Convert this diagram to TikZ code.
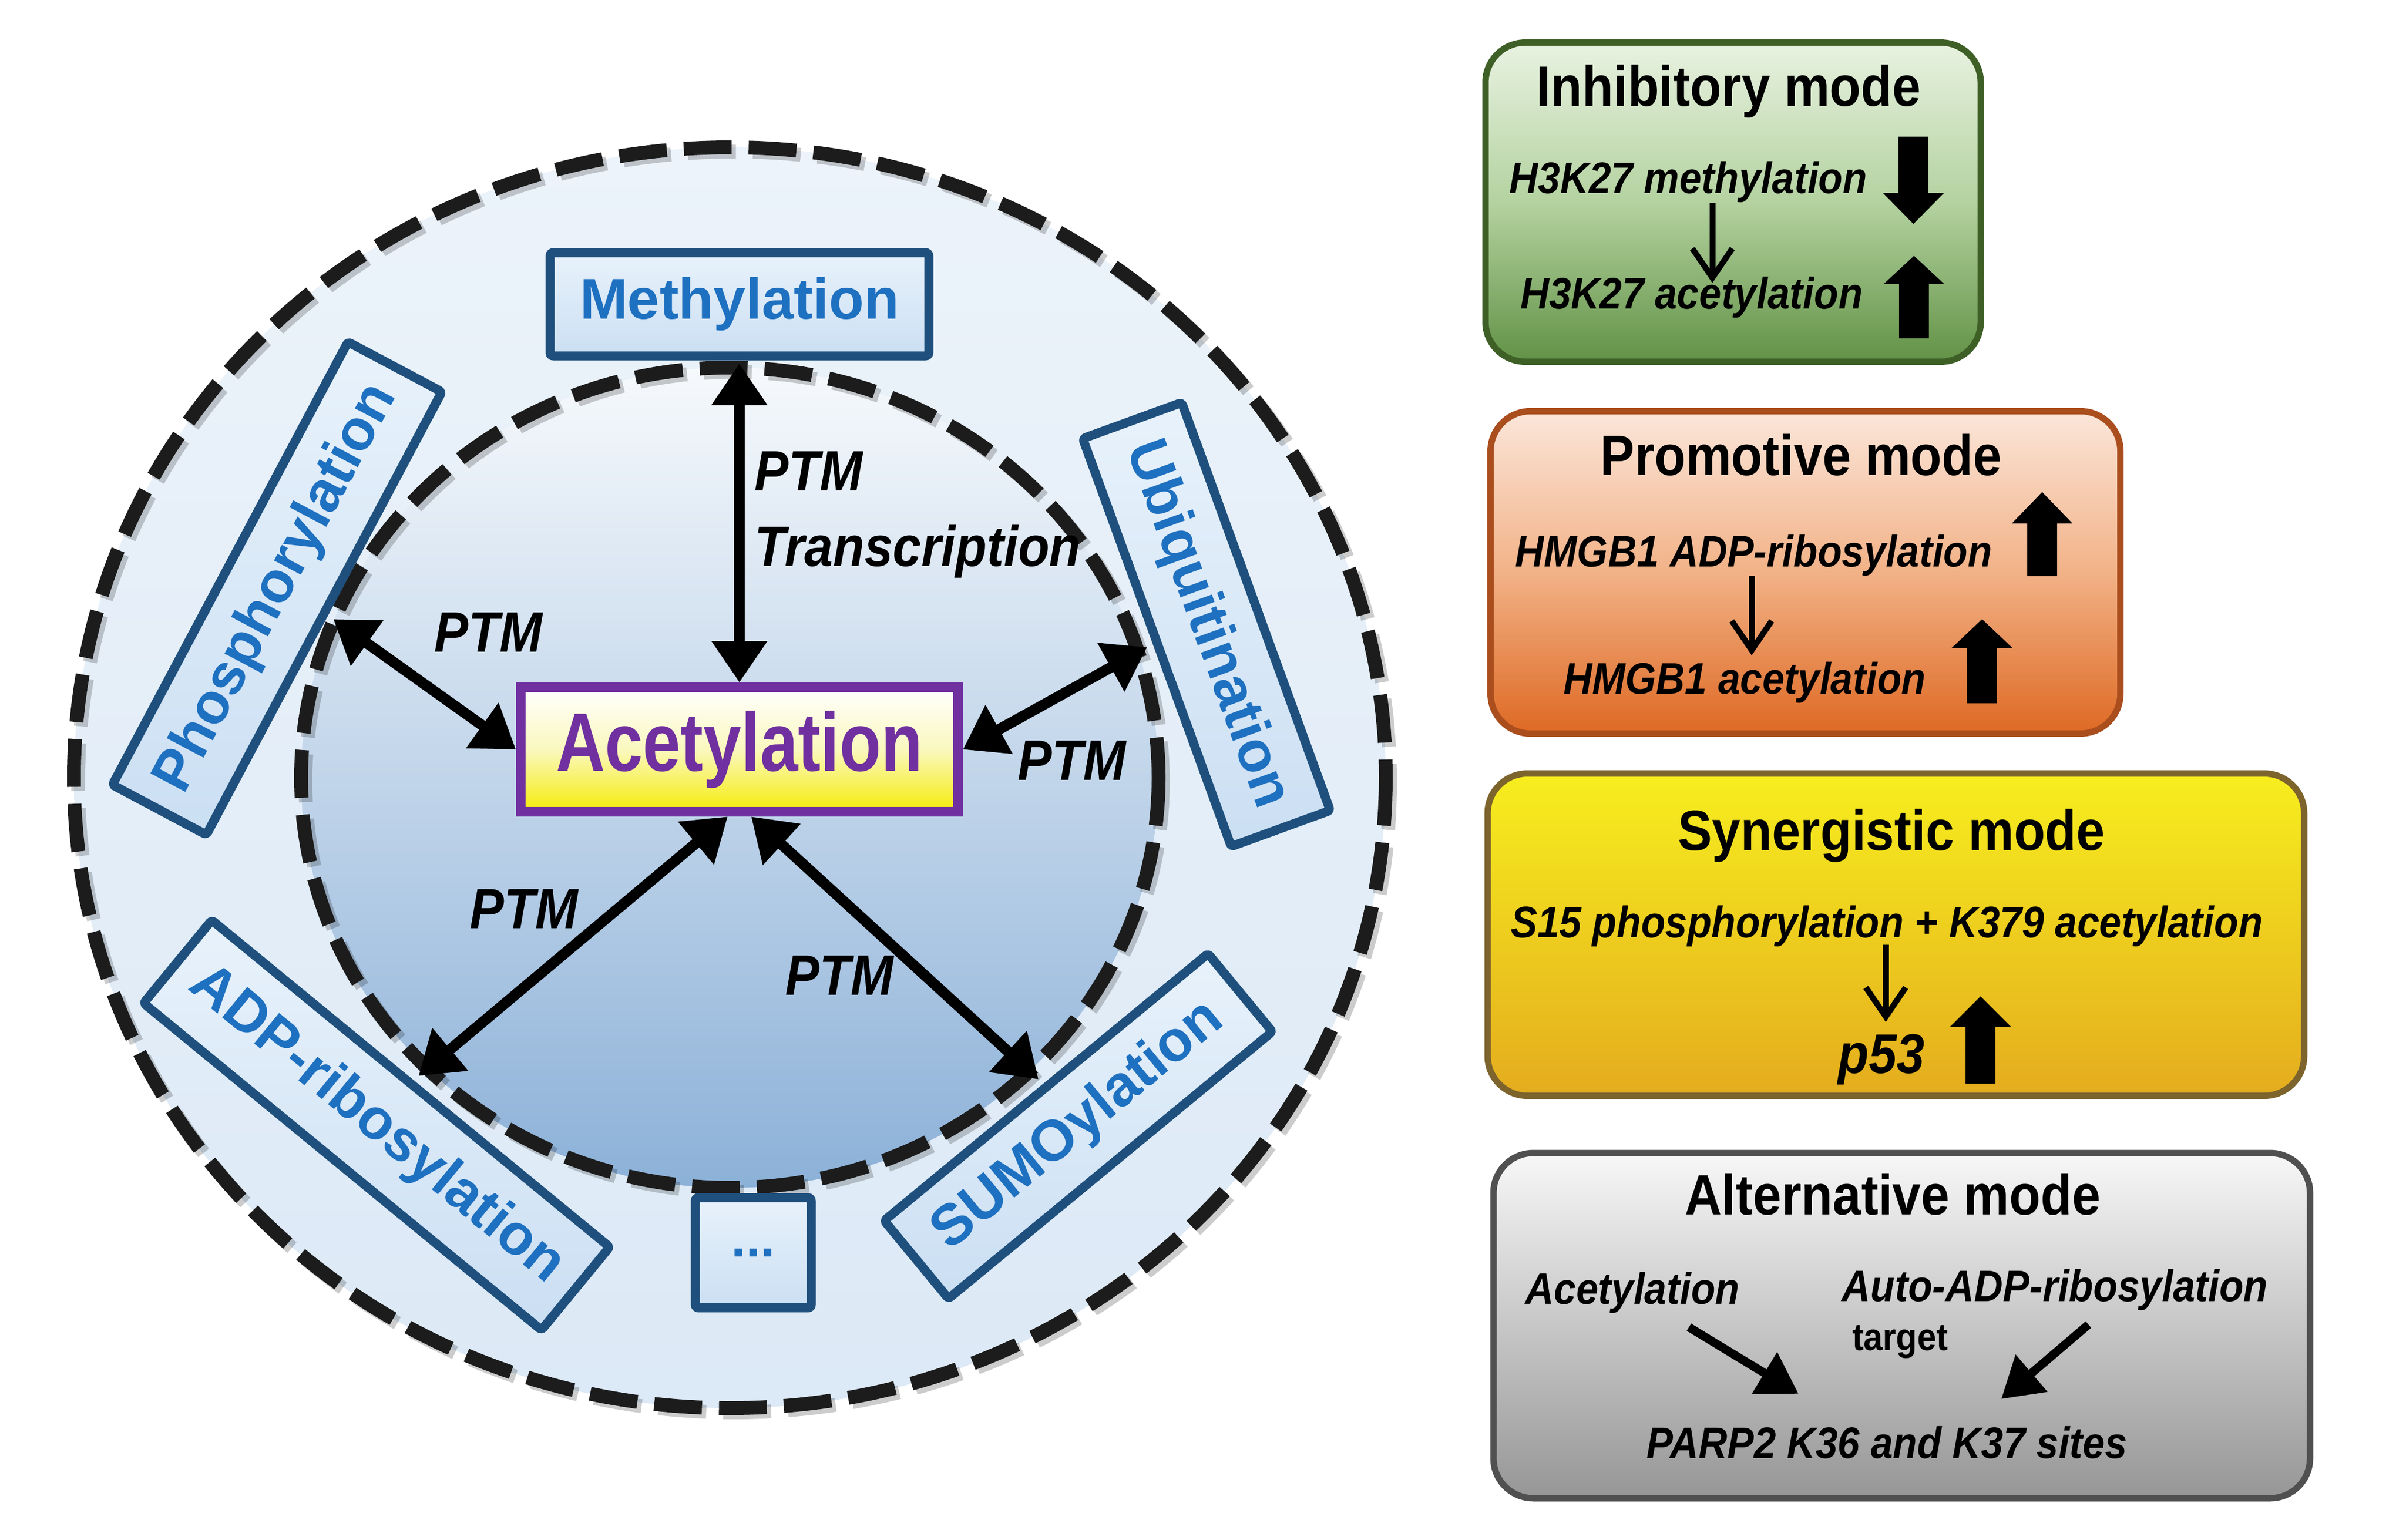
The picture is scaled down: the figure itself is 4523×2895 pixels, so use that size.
\documentclass[tikz,border=0pt]{standalone}
\usepackage{fontspec}
\setmainfont{Liberation Sans}
\newfontfamily\narrowf{Liberation Sans}[FakeStretch=0.9]
\newfontfamily\acetf{Liberation Sans}[FakeStretch=0.82]
\usetikzlibrary{arrows.meta}
\newcommand\fsz[1]{\fontsize{#1}{#1}\selectfont}
\newcommand\blkarrow[4]{\fill[black] (#1-28,#2) -- (#1-28,#3) -- (#1-57,#3) -- (#1,#4) -- (#1+57,#3) -- (#1+28,#3) -- (#1+28,#2) -- cycle;}
\definecolor{outT}{RGB}{236,243,250}
\definecolor{outB}{RGB}{220,233,246}
\definecolor{inT}{RGB}{246,249,252}
\definecolor{inM}{RGB}{200,218,238}
\definecolor{inB}{RGB}{140,177,216}
\definecolor{dashc}{RGB}{28,28,28}
\definecolor{bluebd}{RGB}{31,80,125}
\definecolor{blueT}{RGB}{232,242,251}
\definecolor{blueB}{RGB}{203,223,243}
\definecolor{bluetx}{RGB}{30,112,192}
\definecolor{purp}{RGB}{112,48,160}
\definecolor{acetY}{RGB}{245,236,10}
\definecolor{acetM}{RGB}{250,248,190}
\definecolor{grnbd}{RGB}{62,95,38}
\definecolor{grnT}{RGB}{232,242,225}
\definecolor{grnM}{RGB}{180,210,160}
\definecolor{grnB}{RGB}{98,146,70}
\definecolor{ornbd}{RGB}{170,78,30}
\definecolor{ornT}{RGB}{251,230,218}
\definecolor{ornM}{RGB}{242,178,135}
\definecolor{ornB}{RGB}{222,105,35}
\definecolor{yelbd}{RGB}{125,100,45}
\definecolor{yelT}{RGB}{247,238,30}
\definecolor{yelB}{RGB}{228,172,30}
\definecolor{grybd}{RGB}{80,80,80}
\definecolor{gryT}{RGB}{247,247,247}
\definecolor{gryB}{RGB}{150,150,150}
\begin{document}
\begin{tikzpicture}[x=1pt,y=-1pt,
  dashring/.style={line width=26, dash pattern=on 90pt off 32pt, draw=dashc},
  bluebox/.style={draw=bluebd, line width=17, top color=blueT, bottom color=blueB, text=bluetx, font=\fsz{108}\bfseries, inner sep=0, rounded corners=6},
  dbl/.style={line width=20, {Triangle[length=78pt,width=100pt]}-{Triangle[length=78pt,width=100pt]}},
  ptm/.style={font=\fsz{107}\narrowf\bfseries\itshape, inner sep=0, anchor=base},
  modebox/.style={line width=12, rounded corners=75, inner sep=0},
  title/.style={font=\fsz{107}\narrowf\bfseries, inner sep=0, anchor=base},
  body/.style={font=\fsz{83}\narrowf\bfseries\itshape, inner sep=0, anchor=base},
  thinarrow/.style={line width=11, -{Straight Barb[length=55pt,width=75pt]}},
  altarrow/.style={line width=16, -{Triangle[length=75pt,width=88pt]}}]
\useasboundingbox (0,0) rectangle (4523,2895);
\fill[white] (0,0) rectangle (4523,2895);

% rings
\coordinate (C) at (1372,1462);
\shade[top color=outT, bottom color=outB] (C) ellipse [x radius=1233, y radius=1185];
\draw[dashring, draw=black, opacity=0.2] ([shift={(8,8)}]C) ellipse [x radius=1233, y radius=1185];
\draw[dashring] (C) ellipse [x radius=1233, y radius=1185];
\shade[top color=inT, middle color=inM, bottom color=inB] (C) ellipse [x radius=806, y radius=771];
\draw[dashring, draw=black, opacity=0.2] ([shift={(8,8)}]C) ellipse [x radius=806, y radius=771];
\draw[dashring] (C) ellipse [x radius=806, y radius=771];

% PTM boxes
\node[bluebox, minimum width=712, minimum height=194] (meth) at (1390,572) {Methylation};
\node[bluebox, rotate=62, minimum width=943, minimum height=200] (phos) at (521,1106) {Phosphorylation};
\node[bluebox, rotate=-70, minimum width=816, minimum height=198] (ubiq) at (2268,1174) {Ubiquitination};
\node[bluebox, rotate=-39.4, minimum width=968, minimum height=202] (adp) at (708,2115) {ADP-ribosylation};
\node[bluebox, rotate=39.5, minimum width=789, minimum height=190] (sumo) at (2027,2117) {SUMOylation};
\node[bluebox, minimum width=218, minimum height=207, font=\fsz{100}\bfseries] (dots) at (1416,2355) {...};

\node[draw=purp, line width=18, top color=white, bottom color=acetY, middle color=acetM, text=purp,
      font=\fsz{156}\acetf\bfseries, minimum width=822, minimum height=234, inner sep=0] (acet) at (1390,1409) {Acetylation};

% connectors
\draw[dbl, shorten <=6] (meth.south) -- (acet.north);
\draw[dbl, shorten <=12] (phos.south) -- (acet.west);
\draw[dbl, shorten <=12] (ubiq.south) -- (acet.east);
\draw[dbl, shorten <=12] (adp.north) -- ([xshift=-22]acet.south);
\draw[dbl, shorten <=12] (sumo.north) -- ([xshift=22]acet.south);

% PTM labels
\node[ptm, anchor=base west] (l1) at (1418,922) {PTM};
\node[ptm, anchor=base west] (l2) at (1418,1064) {Transcription};
\node[ptm] (l3) at (918,1225) {PTM};
\node[ptm] (l4) at (2015,1466) {PTM};
\node[ptm] (l5) at (985,1745) {PTM};
\node[ptm] (l6) at (1578,1870) {PTM};

% Inhibitory
\node[modebox, draw=grnbd, top color=grnT, bottom color=grnB, middle color=grnM, minimum width=931, minimum height=600] (inhib) at (3258,380) {};
\node[title] (it) at (3250,200) {Inhibitory mode};
\node[body] (i1) at (3174,363) {H3K27 methylation};
\node[body] (i2) at (3180,580) {H3K27 acetylation};
\coordinate (i1a) at (3219,381);
\coordinate (i2a) at (3219,532);
\draw[thinarrow] (i1a) -- (i2a);
\blkarrow{3597}{257}{363}{421}
\blkarrow{3598}{636}{534}{481}

% Promotive
\node[modebox, draw=ornbd, top color=ornT, bottom color=ornB, middle color=ornM, minimum width=1184, minimum height=606] (promo) at (3394,1076) {};
\node[title] (pt) at (3386,893) {Promotive mode};
\node[body] (p1) at (3297,1065) {HMGB1 ADP-ribosylation};
\node[body] (p2) at (3280,1304) {HMGB1 acetylation};
\coordinate (p1a) at (3293,1083);
\coordinate (p2a) at (3293,1232);
\draw[thinarrow] (p1a) -- (p2a);
\blkarrow{3839}{1083}{984}{925}
\blkarrow{3726}{1322}{1218}{1164}

% Synergistic
\node[modebox, draw=yelbd, top color=yelT, bottom color=yelB, minimum width=1535, minimum height=606] (syn) at (3564,1757) {};
\node[title] (st) at (3556,1598) {Synergistic mode};
\node[body] (s1) at (3547,1762) {S15 phosphorylation + K379 acetylation};
\node[body, font=\fsz{105}\narrowf\bfseries\itshape] (s2) at (3537,2017) {p53};
\coordinate (s1a) at (3545,1776);
\coordinate (s2a) at (3545,1921);
\draw[thinarrow] (s1a) -- (s2a);
\blkarrow{3723}{2037}{1930}{1873}

% Alternative
\node[modebox, draw=grybd, top color=gryT, bottom color=gryB, minimum width=1535, minimum height=649] (alt) at (3575,2492) {};
\node[title] (at) at (3558,2283) {Alternative mode};
\node[body] (a1) at (3069,2451) {Acetylation};
\node[body] (a2) at (3863,2446) {Auto-ADP-ribosylation};
\node[font=\fsz{72}\narrowf\bfseries, anchor=base, inner sep=0] (tg) at (3572,2538) {target};
\node[body] (a3) at (3547,2741) {PARP2 K36 and K37 sites};
\coordinate (a1s) at (3175,2495);
\coordinate (a1e) at (3381,2620);
\coordinate (a2s) at (3926,2490);
\coordinate (a2e) at (3762,2630);
\draw[altarrow] (a1s) -- (a1e);
\draw[altarrow] (a2s) -- (a2e);
\end{tikzpicture}
\end{document}
